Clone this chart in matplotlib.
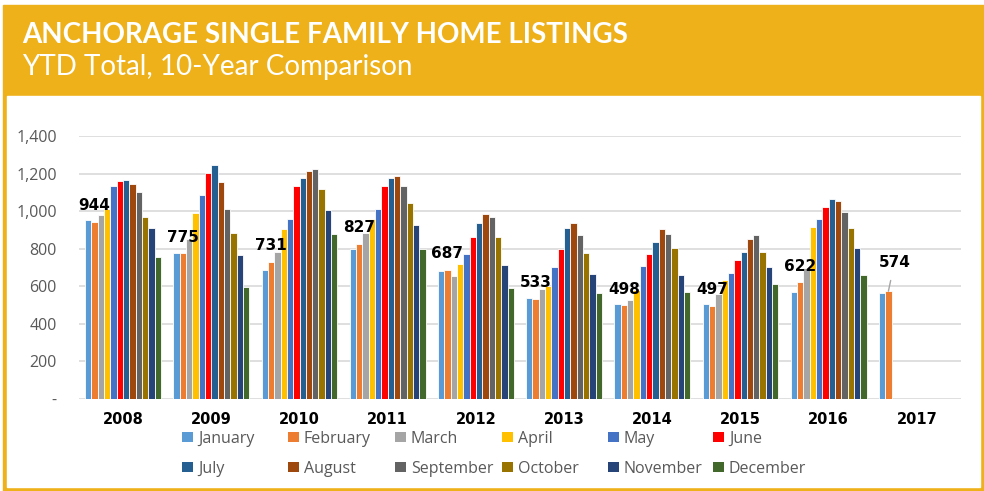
import numpy as np
import matplotlib.pyplot as plt
from matplotlib.patches import Rectangle, Patch

years = ['2008', '2009', '2010', '2011', '2012', '2013', '2014', '2015', '2016', '2017']
months = ['January', 'February', 'March', 'April', 'May', 'June', 'July',
          'August', 'September', 'October', 'November', 'December']
nan = np.nan

# monthly listing counts per year (2017 only has Jan/Feb)
jan = [955, 775, 689, 797, 684, 540, 508, 506, 568, 563]
feb = [944, 775, 731, 827, 687, 533, 498, 497, 622, 574]
mar = [977, 850, 781, 884, 655, 584, 527, 561, 700, nan]
apr = [1012, 991, 904, 959, 719, 602, 580, 632, 914, nan]
may = [1134, 1085, 959, 1014, 772, 705, 707, 671, 959, nan]
jun = [1161, 1202, 1133, 1133, 863, 797, 771, 742, 1024, nan]
jul = [1166, 1243, 1175, 1177, 937, 911, 838, 785, 1065, nan]
aug = [1143, 1156, 1213, 1188, 984, 939, 907, 852, 1056, nan]
sep = [1104, 1010, 1225, 1133, 968, 874, 879, 875, 998, nan]
oct_ = [969, 882, 1117, 1044, 863, 776, 804, 781, 911, nan]
nov = [909, 767, 1008, 925, 712, 668, 659, 701, 802, nan]
dec = [755, 595, 879, 801, 591, 565, 568, 613, 662, nan]
series = [jan, feb, mar, apr, may, jun, jul, aug, sep, oct_, nov, dec]

# YTD labels sit on the February bars
ytd = [944, 775, 731, 827, 687, 533, 498, 497, 622, 574]

colors = ['#5B9BD5', '#ED7D31', '#A5A5A5', '#FFC000', '#4472C4', '#FF0000',
          '#255E91', '#9E480E', '#636363', '#997300', '#264478', '#43682B']

gold = '#EFB11A'
grey_txt = '#595959'

fig = plt.figure(figsize=(9.84, 4.91), dpi=100)

# gold frame + header, white panel (behind the axes)
fig.patches.append(Rectangle((3 / 984, 0), 1 - 3 / 984, 1 - 5 / 491,
                             transform=fig.transFigure, color=gold, zorder=-2))
fig.patches.append(Rectangle((7 / 984, 4 / 491), (980 - 7) / 984, (487 - 96) / 491,
                             transform=fig.transFigure, color='white', zorder=-1))

fig.text(22 / 984, 1 - 43 / 491, 'ANCHORAGE SINGLE FAMILY HOME LISTINGS',
         color='white', fontsize=20, fontweight='bold', family='Lato', va='baseline')
fig.text(22 / 984, 1 - 75 / 491, 'YTD Total, 10-Year Comparison',
         color='white', fontsize=20, family='Lato', va='baseline')

ax = fig.add_axes([79 / 984, 1 - 399 / 491, (961 - 79) / 984, (399 - 136) / 491])
ax.set_facecolor('none')

x = np.arange(len(years))
w = 0.0718
for i, vals in enumerate(series):
    ax.bar(x + (i - 5.5) * w, vals, width=w, color=colors[i],
           edgecolor='white', linewidth=0.6, zorder=3)

for j, v in enumerate(ytd):
    xb = x[j] + (1 - 5.5) * w
    if j == len(ytd) - 1:
        ax.annotate(str(v), xy=(xb, feb[j]), xytext=(xb + 0.07, feb[j] + 155),
                    ha='center', va='center', fontsize=11, fontweight='bold',
                    family='DejaVu Sans',
                    arrowprops=dict(arrowstyle='-', color='#A5A5A5', lw=1,
                                    shrinkA=6, shrinkB=0))
    else:
        ax.annotate(str(v), xy=(xb, feb[j]), xytext=(0, 11.5), textcoords='offset points',
                    ha='center', va='center', fontsize=11, fontweight='bold',
                    family='DejaVu Sans', zorder=4)

ax.set_xlim(-0.5, len(years) - 0.5)
ax.set_ylim(0, 1400)
ax.set_yticks(range(0, 1401, 200))
ax.set_yticklabels(['-'] + [f'{v:,}' for v in range(200, 1401, 200)])
ax.set_xticks(x)
ax.set_xticklabels(years, fontweight='bold', fontsize=10.5, family='DejaVu Sans')
ax.tick_params(axis='both', length=0)
ax.tick_params(axis='x', pad=9)
ax.tick_params(axis='y', pad=16, labelsize=11.5, labelcolor=grey_txt)
for lab in ax.get_yticklabels():
    lab.set_family('Open Sans')
ax.grid(axis='y', color='#D9D9D9', linewidth=1.2, zorder=0)
for s in ax.spines.values():
    s.set_visible(False)

# legend: 6 fixed-width columns, two rows (Jan..Jun / Jul..Dec)
col_x = [182, 288, 395, 502, 608, 713]
for c in range(6):
    hs = [Patch(facecolor=colors[c], edgecolor='none'),
          Patch(facecolor=colors[c + 6], edgecolor='none')]
    leg = fig.legend(hs, [months[c], months[c + 6]], loc='upper left',
                     bbox_to_anchor=(col_x[c] / 984, 1 - 431 / 491), frameon=False,
                     borderpad=0, borderaxespad=0,
                     handlelength=0.7, handleheight=0.6, handletextpad=0.3,
                     labelspacing=0.85, prop={'family': 'Open Sans', 'size': 11.5})
    for t in leg.get_texts():
        t.set_color(grey_txt)

fig.savefig('out.png', dpi=100)
